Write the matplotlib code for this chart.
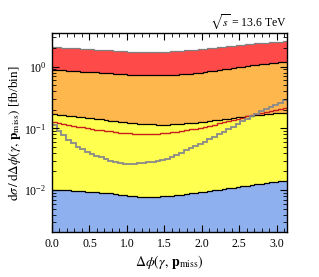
import numpy as np
import matplotlib
matplotlib.use("Agg")
import matplotlib.pyplot as plt
from matplotlib.ticker import MultipleLocator, LogLocator, NullFormatter

plt.rcParams['font.family'] = 'serif'
plt.rcParams['font.serif'] = ['Liberation Serif', 'DejaVu Serif']
plt.rcParams['mathtext.fontset'] = 'stix'

# binning in delta phi (50 bins from 0 to pi)
n_bins = 50
x_min, x_max = 0.0, np.pi

# stacked totals (top of each band), fb/bin
stack_blue = [0.0102, 0.0101, 0.0100, 0.0099, 0.0098, 0.0096, 0.0095, 0.0094, 0.0093, 0.0092,
              0.0090, 0.0089, 0.0088, 0.0086, 0.0084, 0.0082, 0.0080, 0.0079, 0.0078, 0.0077,
              0.0077, 0.0078, 0.0078, 0.0079, 0.0080, 0.0081, 0.0082, 0.0084, 0.0086, 0.0088,
              0.0090, 0.0092, 0.0094, 0.0096, 0.0099, 0.0101, 0.0104, 0.0106, 0.0109, 0.0112,
              0.0115, 0.0118, 0.0121, 0.0124, 0.0127, 0.0130, 0.0133, 0.0136, 0.0139, 0.0142]
stack_yellow = [0.168, 0.166, 0.163, 0.160, 0.157, 0.154, 0.151, 0.148, 0.145, 0.142,
                0.139, 0.136, 0.133, 0.130, 0.127, 0.125, 0.123, 0.121, 0.119, 0.118,
                0.117, 0.116, 0.115, 0.115, 0.115, 0.116, 0.117, 0.118, 0.120, 0.122,
                0.124, 0.126, 0.128, 0.131, 0.134, 0.137, 0.140, 0.143, 0.147, 0.151,
                0.154, 0.158, 0.161, 0.164, 0.167, 0.170, 0.173, 0.175, 0.177, 0.179]
stack_orange = [0.89, 0.88, 0.87, 0.86, 0.85, 0.84, 0.83, 0.83, 0.82, 0.81,
                0.80, 0.79, 0.78, 0.77, 0.76, 0.75, 0.74, 0.74, 0.73, 0.73,
                0.72, 0.72, 0.72, 0.72, 0.73, 0.73, 0.74, 0.75, 0.76, 0.77,
                0.79, 0.80, 0.82, 0.84, 0.86, 0.88, 0.90, 0.92, 0.95, 0.97,
                1.00, 1.02, 1.05, 1.07, 1.09, 1.11, 1.13, 1.15, 1.17, 1.19]
stack_red = [2.07, 2.05, 2.03, 2.01, 1.99, 1.97, 1.95, 1.93, 1.91, 1.89,
             1.87, 1.85, 1.83, 1.81, 1.79, 1.77, 1.75, 1.73, 1.71, 1.70,
             1.70, 1.70, 1.71, 1.72, 1.74, 1.76, 1.78, 1.80, 1.83, 1.86,
             1.89, 1.92, 1.95, 1.98, 2.02, 2.06, 2.10, 2.14, 2.18, 2.22,
             2.26, 2.30, 2.34, 2.38, 2.42, 2.45, 2.48, 2.51, 2.54, 2.57]

# overlaid (non-stacked) histograms
signal_red = [0.127, 0.123, 0.119, 0.115, 0.111, 0.107, 0.104, 0.101, 0.098, 0.095,
              0.093, 0.091, 0.089, 0.087, 0.085, 0.084, 0.083, 0.082, 0.082, 0.081,
              0.081, 0.082, 0.082, 0.083, 0.084, 0.086, 0.088, 0.090, 0.093, 0.096,
              0.099, 0.103, 0.107, 0.111, 0.115, 0.120, 0.125, 0.130, 0.136, 0.142,
              0.149, 0.156, 0.163, 0.170, 0.177, 0.184, 0.191, 0.198, 0.204, 0.210]
signal_gray = [0.115, 0.092, 0.077, 0.065, 0.057, 0.050, 0.046, 0.042, 0.039, 0.036,
               0.034, 0.032, 0.030, 0.028, 0.027, 0.026, 0.026, 0.026, 0.027, 0.027,
               0.028, 0.029, 0.030, 0.031, 0.032, 0.034, 0.037, 0.040, 0.044, 0.048,
               0.052, 0.056, 0.061, 0.067, 0.073, 0.080, 0.088, 0.097, 0.107, 0.118,
               0.130, 0.143, 0.157, 0.172, 0.188, 0.204, 0.222, 0.240, 0.262, 0.290]

edges = np.linspace(x_min, x_max, n_bins + 1)

fig = plt.figure(figsize=(3.19, 2.77), dpi=100)
ax = fig.add_axes([0.163, 0.161, 0.738, 0.719])

floor = 1e-4
layers = [
    (stack_blue, None, '#8fb0ee', 'k'),
    (stack_yellow, stack_blue, '#ffff4f', 'k'),
    (stack_orange, stack_yellow, '#fdb74d', 'k'),
    (stack_red, stack_orange, '#ff4a4a', '#808080'),
]
for top, bot, fc, ec in layers:
    base = floor if bot is None else np.array(bot)
    ax.stairs(top, edges, baseline=base, fill=True, color=fc, lw=0)
for top, bot, fc, ec in layers:
    ax.stairs(top, edges, color=ec, lw=0.9, baseline=None)

ax.stairs(signal_red, edges, color='#c81e1e', lw=1.0, baseline=None)
ax.stairs(signal_gray, edges, color='#8a8a8a', lw=1.3, baseline=None)

ax.set_yscale('log')
ax.set_xlim(x_min, x_max)
ax.set_ylim(2.06e-3, 3.47)

ax.xaxis.set_major_locator(MultipleLocator(0.5))
ax.xaxis.set_minor_locator(MultipleLocator(0.1))
ax.xaxis.set_major_formatter(plt.FuncFormatter(lambda v, p: f"{v:.1f}"))
ax.yaxis.set_major_locator(LogLocator(base=10))
ax.yaxis.set_minor_locator(LogLocator(base=10, subs=np.arange(2, 10)))
ax.yaxis.set_minor_formatter(NullFormatter())
ax.tick_params(which='both', direction='in', top=True, right=True, labelsize=8.5)
ax.tick_params(which='major', length=5, width=0.8, pad=4)
ax.tick_params(which='minor', length=2.8, width=0.6)
for s in ax.spines.values():
    s.set_linewidth(1.0)

ax.set_xlabel(r'$\Delta\phi(\gamma,\,\mathbf{p}_{\rm miss})$', fontsize=10, labelpad=2)
ax.set_ylabel(r'$\mathrm{d}\sigma\,/\,\mathrm{d}\Delta\phi(\gamma,\,\mathbf{p}_{\rm miss})$ [fb/bin]',
              fontsize=9.5, labelpad=1)
ax.text(1.0, 1.012, r'$\sqrt{s}$ = 13.6 TeV', transform=ax.transAxes,
        ha='right', va='bottom', fontsize=8.5)

fig.savefig('out.png', dpi=100)
